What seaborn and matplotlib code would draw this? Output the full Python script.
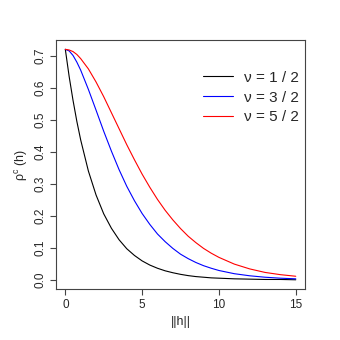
import numpy as np
import pandas as pd
import matplotlib
matplotlib.use("Agg")
import matplotlib.pyplot as plt
import seaborn as sns

# distance ||h|| and correlation values
h = [0, 0.25, 0.5, 0.75, 1, 1.5, 2, 2.5, 3, 3.5, 4, 4.5, 5, 5.5, 6, 6.5, 7,
     7.5, 8, 8.5, 9, 9.5, 10, 11, 12, 13, 14, 15]
rho_nu_half = [0.720, 0.635, 0.561, 0.495, 0.437, 0.340, 0.265, 0.206, 0.161,
               0.125, 0.097, 0.076, 0.059, 0.046, 0.036, 0.028, 0.022, 0.017,
               0.013, 0.010, 0.008, 0.006, 0.005, 0.003, 0.002, 0.001, 0.001, 0.000]
rho_nu_3half = [0.720, 0.715, 0.701, 0.680, 0.655, 0.595, 0.530, 0.464, 0.402,
                0.344, 0.292, 0.247, 0.207, 0.173, 0.143, 0.119, 0.098, 0.080,
                0.066, 0.054, 0.044, 0.036, 0.029, 0.019, 0.0125, 0.008, 0.005, 0.003]
rho_nu_5half = [0.720, 0.718, 0.713, 0.704, 0.691, 0.659, 0.618, 0.572, 0.522,
                0.472, 0.422, 0.375, 0.330, 0.289, 0.251, 0.217, 0.187, 0.160,
                0.136, 0.116, 0.098, 0.083, 0.070, 0.049, 0.034, 0.023, 0.016, 0.011]
labels = ["ν = 1 / 2", "ν = 3 / 2", "ν = 5 / 2"]
colors = ["black", "blue", "red"]
x_ticks = [0, 5, 10, 15]
y_ticks = [0.0, 0.1, 0.2, 0.3, 0.4, 0.5, 0.6, 0.7]

df = pd.DataFrame({
    "h": h * 3,
    "rho": rho_nu_half + rho_nu_3half + rho_nu_5half,
    "nu": [labels[0]] * len(h) + [labels[1]] * len(h) + [labels[2]] * len(h),
})

sns.set_style("ticks")
plt.rcParams["font.family"] = ["Liberation Sans", "DejaVu Sans"]
plt.rcParams["mathtext.fontset"] = "custom"
plt.rcParams["mathtext.rm"] = "Liberation Sans"
plt.rcParams["mathtext.it"] = "Liberation Sans"

fig = plt.figure(figsize=(3.4, 3.4), dpi=100)
ax = fig.add_axes([0.165, 0.15, 0.732, 0.732])

sns.lineplot(data=df, x="h", y="rho", hue="nu", palette=colors,
             linewidth=0.8, ax=ax)

ax.set_xlim(-0.6, 15.6)
ax.set_ylim(-0.0288, 0.7488)
ax.set_xticks(x_ticks)
ax.set_xticklabels([str(t) for t in x_ticks], fontsize=8.5)
ax.set_yticks(y_ticks)
ax.set_yticklabels([f"{t:.1f}" for t in y_ticks], fontsize=8.5,
                   rotation=90, va="center")
ax.tick_params(direction="out", length=4, width=0.8, color="#444444", pad=3)
for s in ax.spines.values():
    s.set_visible(True)
    s.set_linewidth(0.8)
    s.set_color("#444444")

ax.set_xlabel("||h||", fontsize=9, labelpad=4)
ax.set_ylabel(r"$\mathrm{\rho^c}$ (h)", fontsize=9, labelpad=3)

leg = ax.legend(loc="upper left", frameon=False, fontsize=11,
                handlelength=2.0, handletextpad=0.7, labelspacing=0.38,
                borderpad=0, borderaxespad=0,
                bbox_to_anchor=(0.59, 0.877))

fig.savefig("out.png", dpi=100)
